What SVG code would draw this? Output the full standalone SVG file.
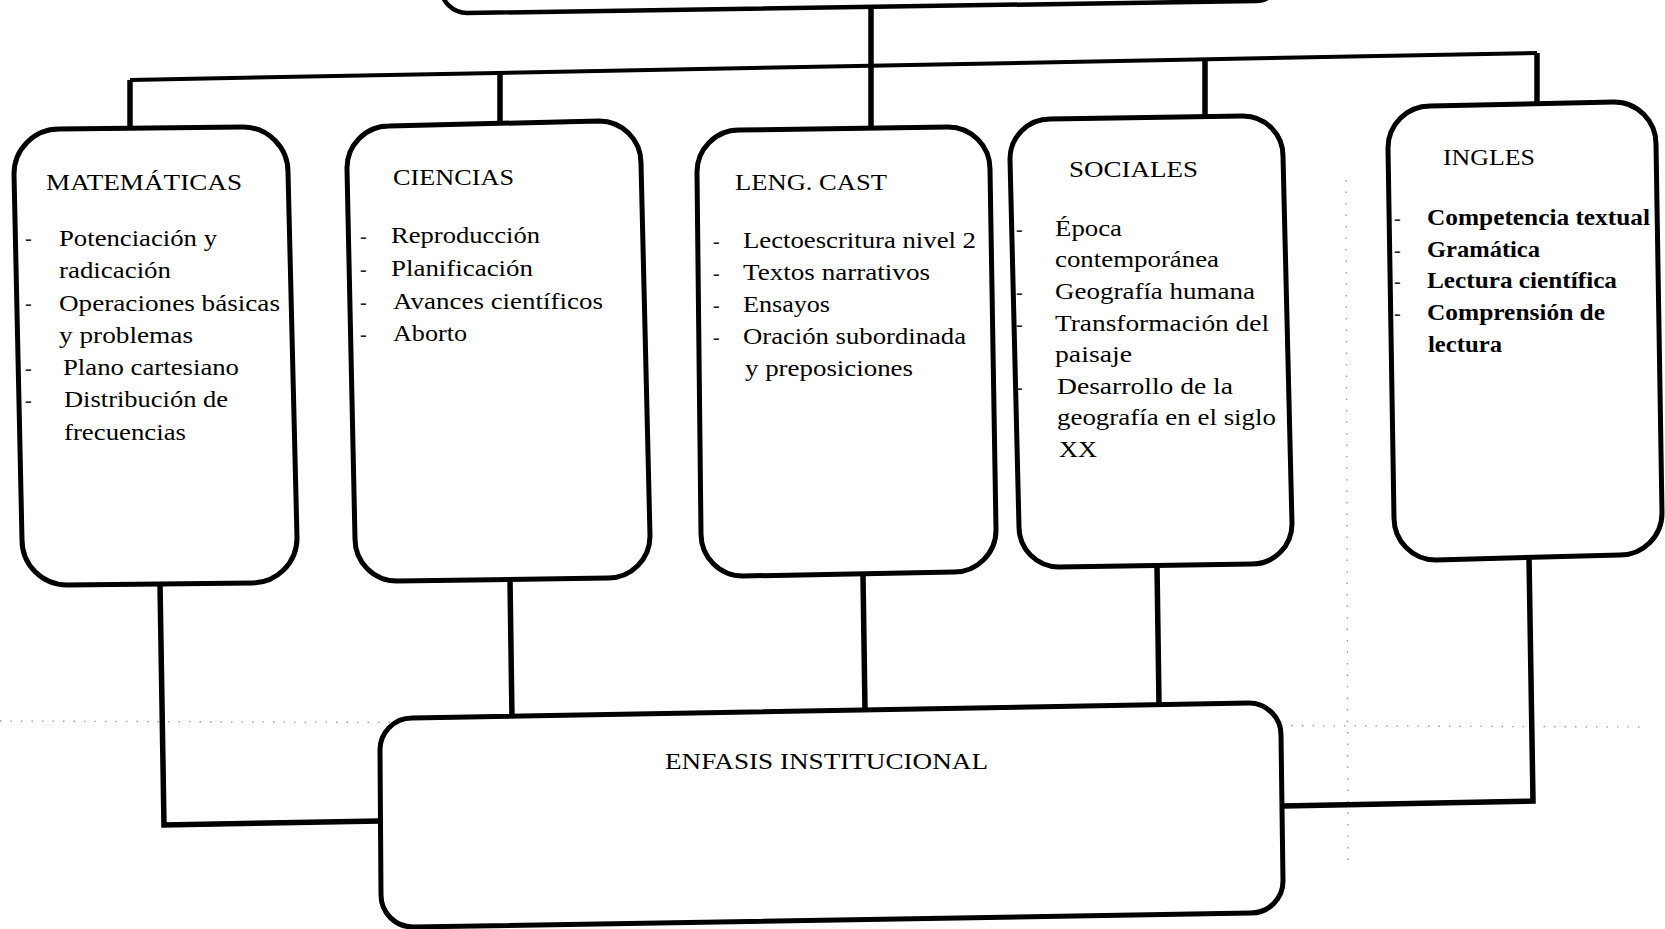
<svg xmlns="http://www.w3.org/2000/svg" width="1665" height="929" viewBox="0 0 1665 929">
<style>
.box{fill:#fff;stroke:#000;stroke-width:5;stroke-linejoin:round}
.top{fill:none;stroke:#000;stroke-width:4.5}
.ln{fill:none;stroke:#000;stroke-width:5.5;stroke-linejoin:miter}
.bus{fill:none;stroke:#000;stroke-width:4}
.art{fill:none;stroke:#9a9a9a;stroke-width:1.3}
.t{font-family:"Liberation Serif","Times New Roman",serif;font-size:24px;fill:#000}
.h{font-family:"Liberation Serif","Times New Roman",serif;font-size:23px;fill:#000}
.b{font-weight:bold}
.d{font-family:"Liberation Serif","Times New Roman",serif;font-size:20px;fill:#222}
</style>
<rect width="1665" height="929" fill="#fff"/>
<g id="artifacts">
<path class="art" d="M0,721 L1640,727" stroke-dasharray="1.5 9"/>
<path class="art" d="M1346,180 L1348,860" stroke-dasharray="1.5 10"/>
</g>
<g id="connectors">
<path class="bus" d="M130,80 L1537,53"/>
<path class="ln" d="M130,80 L130,132"/>
<path class="ln" d="M500,73 L500,127"/>
<path class="ln" d="M871,8 L871,129"/>
<path class="ln" d="M1205,59 L1205,118"/>
<path class="ln" d="M1537,53 L1537,105"/>
<path class="ln" d="M160,584 L164,825 L380,821"/>
<path class="ln" d="M510,580 L512,719"/>
<path class="ln" d="M863,575 L865,711"/>
<path class="ln" d="M1157,566 L1159,704"/>
<path class="ln" d="M1529,557 L1533,801 L1283,806"/>
</g>
<g id="top-node">
<path class="top" d="M439,-40 L441,-12 A26 26 0 0 0 467,13 L1256,1 A24 24 0 0 0 1280,-23 L1281,-40"/>
</g>
<g id="matematicas">
<path class="box" d="M14,174 A45 45 0 0 1 59,129 L243,127 A45 45 0 0 1 288,172 L297,538 A45 45 0 0 1 252,583 L67,585 A45 45 0 0 1 22,540 Z"/>
<text class="h" x="46" y="190" textLength="196" lengthAdjust="spacingAndGlyphs">MATEMÁTICAS</text>
<text class="d" x="25" y="245">-</text>
<text class="d" x="25" y="310">-</text>
<text class="d" x="25" y="375">-</text>
<text class="d" x="25" y="407">-</text>
<text class="t" x="59" y="246" textLength="158" lengthAdjust="spacingAndGlyphs">Potenciación y</text>
<text class="t" x="59" y="278" textLength="112" lengthAdjust="spacingAndGlyphs">radicación</text>
<text class="t" x="59" y="311" textLength="221" lengthAdjust="spacingAndGlyphs">Operaciones básicas</text>
<text class="t" x="59" y="343" textLength="134" lengthAdjust="spacingAndGlyphs">y problemas</text>
<text class="t" x="63" y="375" textLength="176" lengthAdjust="spacingAndGlyphs">Plano cartesiano</text>
<text class="t" x="64" y="407" textLength="164" lengthAdjust="spacingAndGlyphs">Distribución de</text>
<text class="t" x="64" y="440" textLength="122" lengthAdjust="spacingAndGlyphs">frecuencias</text>
</g>
<g id="ciencias">
<path class="box" d="M347,169 A42 42 0 0 1 389,126 L599,121 A42 42 0 0 1 641,163 L650,536 A42 42 0 0 1 608,578 L397,581 A42 42 0 0 1 355,539 Z"/>
<text class="h" x="393" y="185" textLength="121" lengthAdjust="spacingAndGlyphs">CIENCIAS</text>
<text class="d" x="360" y="243">-</text>
<text class="d" x="360" y="276">-</text>
<text class="d" x="360" y="309">-</text>
<text class="d" x="360" y="341">-</text>
<text class="t" x="391" y="243" textLength="149" lengthAdjust="spacingAndGlyphs">Reproducción</text>
<text class="t" x="391" y="276" textLength="142" lengthAdjust="spacingAndGlyphs">Planificación</text>
<text class="t" x="393" y="309" textLength="210" lengthAdjust="spacingAndGlyphs">Avances científicos</text>
<text class="t" x="393" y="341" textLength="74" lengthAdjust="spacingAndGlyphs">Aborto</text>
</g>
<g id="leng-cast">
<path class="box" d="M697,173 A42 42 0 0 1 739,130 L948,127 A42 42 0 0 1 990,169 L996,530 A42 42 0 0 1 954,572 L743,576 A42 42 0 0 1 701,534 Z"/>
<text class="h" x="735" y="190" textLength="152" lengthAdjust="spacingAndGlyphs">LENG. CAST</text>
<text class="d" x="713" y="248">-</text>
<text class="d" x="713" y="280">-</text>
<text class="d" x="713" y="312">-</text>
<text class="d" x="713" y="344">-</text>
<text class="t" x="743" y="248" textLength="233" lengthAdjust="spacingAndGlyphs">Lectoescritura nivel 2</text>
<text class="t" x="743" y="280" textLength="187" lengthAdjust="spacingAndGlyphs">Textos narrativos</text>
<text class="t" x="743" y="312" textLength="87" lengthAdjust="spacingAndGlyphs">Ensayos</text>
<text class="t" x="743" y="344" textLength="223" lengthAdjust="spacingAndGlyphs">Oración subordinada</text>
<text class="t" x="745" y="376" textLength="168" lengthAdjust="spacingAndGlyphs">y preposiciones</text>
</g>
<g id="sociales">
<path class="box" d="M1010,159 A40 40 0 0 1 1050,119 L1243,116 A40 40 0 0 1 1283,156 L1292,524 A40 40 0 0 1 1252,564 L1059,567 A40 40 0 0 1 1019,527 Z"/>
<text class="h" x="1069" y="177" textLength="129" lengthAdjust="spacingAndGlyphs">SOCIALES</text>
<text class="d" x="1016" y="236">-</text>
<text class="d" x="1016" y="299">-</text>
<text class="d" x="1016" y="331">-</text>
<text class="d" x="1016" y="394">-</text>
<text class="t" x="1055" y="236" textLength="67" lengthAdjust="spacingAndGlyphs">Época</text>
<text class="t" x="1055" y="267" textLength="164" lengthAdjust="spacingAndGlyphs">contemporánea</text>
<text class="t" x="1055" y="299" textLength="200" lengthAdjust="spacingAndGlyphs">Geografía humana</text>
<text class="t" x="1055" y="331" textLength="214" lengthAdjust="spacingAndGlyphs">Transformación del</text>
<text class="t" x="1055" y="362" textLength="77" lengthAdjust="spacingAndGlyphs">paisaje</text>
<text class="t" x="1057" y="394" textLength="176" lengthAdjust="spacingAndGlyphs">Desarrollo de la</text>
<text class="t" x="1057" y="425" textLength="219" lengthAdjust="spacingAndGlyphs">geografía en el siglo</text>
<text class="t" x="1059" y="457" textLength="38" lengthAdjust="spacingAndGlyphs">XX</text>
</g>
<g id="ingles">
<path class="box" d="M1388,148 A42 42 0 0 1 1430,106 L1614,102 A42 42 0 0 1 1656,144 L1662,513 A42 42 0 0 1 1620,555 L1436,560 A42 42 0 0 1 1394,518 Z"/>
<text class="h" x="1443" y="165" textLength="92" lengthAdjust="spacingAndGlyphs">INGLES</text>
<text class="d" x="1394" y="225">-</text>
<text class="d" x="1394" y="257">-</text>
<text class="d" x="1394" y="288">-</text>
<text class="d" x="1394" y="320">-</text>
<text class="t b" x="1427" y="225" textLength="223" lengthAdjust="spacingAndGlyphs">Competencia textual</text>
<text class="t b" x="1427" y="257" textLength="113" lengthAdjust="spacingAndGlyphs">Gramática</text>
<text class="t b" x="1427" y="288" textLength="190" lengthAdjust="spacingAndGlyphs">Lectura científica</text>
<text class="t b" x="1427" y="320" textLength="178" lengthAdjust="spacingAndGlyphs">Comprensión de</text>
<text class="t b" x="1428" y="352" textLength="74" lengthAdjust="spacingAndGlyphs">lectura</text>
</g>
<g id="enfasis">
<path class="box" d="M380,751 A32 32 0 0 1 412,718 L1249,703 A32 32 0 0 1 1281,735 L1283,881 A32 32 0 0 1 1251,913 L413,927 A32 32 0 0 1 381,895 Z"/>
<text class="h" x="665" y="769" textLength="323" lengthAdjust="spacingAndGlyphs">ENFASIS INSTITUCIONAL</text>
</g>
</svg>
